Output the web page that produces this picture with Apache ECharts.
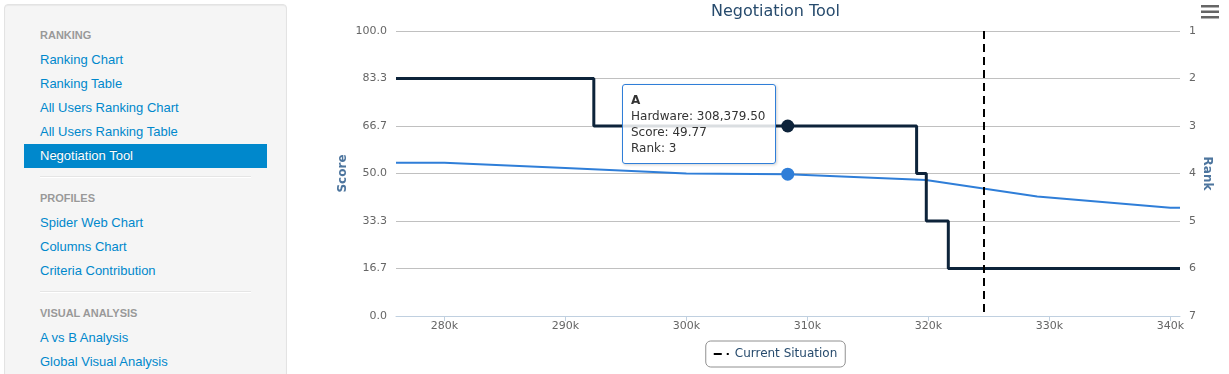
<!DOCTYPE html>
<html>
<head>
<meta charset="utf-8">
<script src="https://cdn.jsdelivr.net/npm/echarts@6/dist/echarts.min.js"></script>
<style>
  html, body { margin:0; padding:0; background:#fff; width:1229px; height:374px; overflow:hidden; }
  #side { position:absolute; left:4px; top:4px; width:281px; height:380px; background:#f5f5f5;
          border:1px solid #e3e3e3; border-radius:4px; box-shadow: inset 0 1px 1px rgba(0,0,0,0.05); }
  .it { position:absolute; left:40px; height:20px; line-height:20px; font-family:"Liberation Sans", Arial, sans-serif;
        font-size:13px; color:#0088cc; white-space:nowrap; }
  .hd { font-size:11px; font-weight:bold; color:#999; text-transform:uppercase; text-shadow:0 1px 0 rgba(255,255,255,0.5); }
  .act { position:absolute; left:24px; top:144px; width:243px; height:24px; background:#0088cc; }
  .act-t { color:#fff; text-shadow:0 -1px 0 rgba(0,0,0,0.2); }
  .div { position:absolute; left:40px; width:211px; height:1px; background:#e5e5e5; border-bottom:1px solid #fff; }
  #chart { position:absolute; left:322px; top:0; width:907px; height:374px; }
</style>
</head>
<body>
<div id="side"></div>
<div id="chart"></div>
<script>
// ---- sidebar menu ----
const menuHeadings = ['RANKING', 'PROFILES', 'VISUAL ANALYSIS'];
const menuRanking = ['Ranking Chart', 'Ranking Table', 'All Users Ranking Chart', 'All Users Ranking Table', 'Negotiation Tool'];
const menuProfiles = ['Spider Web Chart', 'Columns Chart', 'Criteria Contribution'];
const menuVisual = ['A vs B Analysis', 'Global Visual Analysis'];
const activeItem = 'Negotiation Tool';

// ---- chart data ----
const chartTitle = 'Negotiation Tool';
const xTicks = [280000, 290000, 300000, 310000, 320000, 330000, 340000];
const scoreX = [276000, 280000, 290000, 300000, 308379.5, 319800, 329000, 340000, 340800];
const scoreY = [53.8, 53.8, 51.9, 50.0, 49.77, 47.7, 41.9, 38.0, 38.0];
const rankX = [276000, 292350, 308379.5, 319030, 319830, 321650, 340800];
const rankY = [2, 3, 3, 4, 5, 6, 6];
const currentSituationX = 324600;
const highlightName = 'A';
const highlightHardware = 308379.5;
const highlightScore = 49.77;
const highlightRank = 3;

// build sidebar
(function(){
  const side = document.body;
  function add(cls, text, centerY){
    const d = document.createElement('div');
    d.className = cls; d.textContent = text; d.style.top = (centerY - 10) + 'px';
    side.appendChild(d); return d;
  }
  const act = document.createElement('div'); act.className = 'act'; side.appendChild(act);
  let y = 35;
  add('it hd', menuHeadings[0], y); y += 25;
  menuRanking.forEach(t => { add('it' + (t === activeItem ? ' act-t' : ''), t, y); y += 24; });
  const d1 = document.createElement('div'); d1.className = 'div'; d1.style.top = '176px'; side.appendChild(d1);
  y = 198;
  add('it hd', menuHeadings[1], y); y += 24.7;
  menuProfiles.forEach(t => { add('it', t, y); y += 24; });
  const d2 = document.createElement('div'); d2.className = 'div'; d2.style.top = '291px'; side.appendChild(d2);
  y = 313;
  add('it hd', menuHeadings[2], y); y += 24.7;
  menuVisual.forEach(t => { add('it', t, y); y += 24; });
})();

const FONT = '"DejaVu Sans", Verdana, sans-serif';
const scoreData = scoreX.map((x, i) => x === highlightHardware
  ? { value: [x, scoreY[i]], symbol: 'circle', symbolSize: 13 }
  : { value: [x, scoreY[i]], symbol: 'none' });
const rankData = rankX.map((x, i) => x === highlightHardware
  ? { value: [x, rankY[i]], symbol: 'circle', symbolSize: 13 }
  : { value: [x, rankY[i]], symbol: 'none' });
const hlIndex = scoreX.indexOf(highlightHardware);

const fmtNum = v => v.toLocaleString('en-US', { minimumFractionDigits: 2, maximumFractionDigits: 2 });

const chart = echarts.init(document.getElementById('chart'), null, { renderer: 'canvas' });
chart.setOption({
  animation: false,
  textStyle: { fontFamily: FONT },
  title: {
    text: chartTitle, left: 'center', top: 4, padding: 0,
    textStyle: { color: '#274b6d', fontSize: 16, fontWeight: 'normal', fontFamily: FONT }
  },
  graphic: [
    { type: 'rect', left: 879, top: 5, shape: { width: 18, height: 2.5 }, style: { fill: '#666' } },
    { type: 'rect', left: 879, top: 10.5, shape: { width: 18, height: 2.5 }, style: { fill: '#666' } },
    { type: 'rect', left: 879, top: 16, shape: { width: 18, height: 2.5 }, style: { fill: '#666' } }
  ],
  grid: { left: 74, right: 49, top: 31, bottom: 58, containLabel: false },
  legend: {
    data: [{
      name: 'Current Situation',
      icon: 'path://M0,0L0,0ZM0,6L8,6L8,8L0,8ZM13,6L15,6L15,8L13,8ZM16,14L16,14Z'
    }],
    left: 'center', bottom: 7,
    itemWidth: 16, itemHeight: 14, itemGap: 5,
    padding: [6, 8],
    borderColor: '#909090', borderWidth: 1, borderRadius: 5,
    itemStyle: { color: '#000', borderWidth: 0 },
    textStyle: { color: '#274b6d', fontSize: 12, fontFamily: FONT }
  },
  tooltip: {
    trigger: 'item', triggerOn: 'none', alwaysShowContent: true,
    transitionDuration: 0, showDelay: 0, hideDelay: 0,
    position: [300, 84],
    backgroundColor: 'rgba(255,255,255,0.85)',
    borderColor: '#2f7ed8', borderWidth: 1, padding: [7, 9, 7, 8],
    textStyle: { color: '#333', fontSize: 12, fontFamily: FONT, lineHeight: 16 },
    extraCssText: 'line-height:16px;border-radius:3px;box-shadow:1px 1px 3px rgba(0,0,0,0.18);',
    formatter: () => '<b>' + highlightName + '</b><br/>Hardware: ' + fmtNum(highlightHardware) +
      '<br/>Score: ' + highlightScore.toFixed(2) + '<br/>Rank: ' + highlightRank
  },
  xAxis: {
    type: 'value', min: 276000, max: 340800, z: 3,
    axisLine: { show: true, lineStyle: { color: '#C0D0E0', width: 1 } },
    axisTick: { show: true, customValues: xTicks, length: 5, lineStyle: { color: '#C0D0E0' } },
    axisLabel: { customValues: xTicks, formatter: v => (v / 1000) + 'k', color: '#666', fontSize: 11, margin: 5, fontFamily: FONT },
    splitLine: { show: false }
  },
  yAxis: [
    {
      type: 'value', min: 0, max: 100, interval: 100 / 6, position: 'left',
      name: 'Score', nameLocation: 'middle', nameRotate: 90, nameGap: 47, nameMoveOverlap: false,
      nameTextStyle: { color: '#4d759e', fontWeight: 'bold', fontSize: 12, fontFamily: FONT },
      axisLine: { show: false }, axisTick: { show: false },
      axisLabel: { formatter: v => v.toFixed(1), color: '#666', fontSize: 11, margin: 9, fontFamily: FONT },
      splitLine: { show: true, lineStyle: { color: '#C0C0C0', width: 1 } }
    },
    {
      type: 'value', min: 1, max: 7, interval: 1, inverse: true, position: 'right',
      name: 'Rank', nameLocation: 'middle', nameRotate: -90, nameGap: 21, nameMoveOverlap: false,
      nameTextStyle: { color: '#4d759e', fontWeight: 'bold', fontSize: 12, fontFamily: FONT },
      axisLine: { show: false }, axisTick: { show: false },
      axisLabel: { color: '#666', fontSize: 11, margin: 9, fontFamily: FONT },
      splitLine: { show: false }
    }
  ],
  series: [
    {
      name: 'Score', type: 'line', yAxisIndex: 0, data: scoreData,
      showSymbol: true, symbol: 'none',
      lineStyle: { color: '#2f7ed8', width: 2 }, itemStyle: { color: '#2f7ed8' },
      emphasis: { disabled: true }, z: 2
    },
    {
      name: 'Rank', type: 'line', yAxisIndex: 1, step: 'end', data: rankData,
      showSymbol: true, symbol: 'none',
      lineStyle: { color: '#0d233a', width: 3 }, itemStyle: { color: '#0d233a' },
      emphasis: { disabled: true }, z: 3
    },
    {
      name: 'Current Situation', type: 'line', yAxisIndex: 0,
      data: [[currentSituationX, 100], [currentSituationX, 0]],
      symbol: 'none', silent: true,
      lineStyle: { color: '#000', width: 2, type: [8, 5] }, itemStyle: { color: '#000' },
      emphasis: { disabled: true }, z: 4
    }
  ]
});
chart.dispatchAction({ type: 'showTip', seriesIndex: 0, dataIndex: hlIndex });
</script>
</body>
</html>
